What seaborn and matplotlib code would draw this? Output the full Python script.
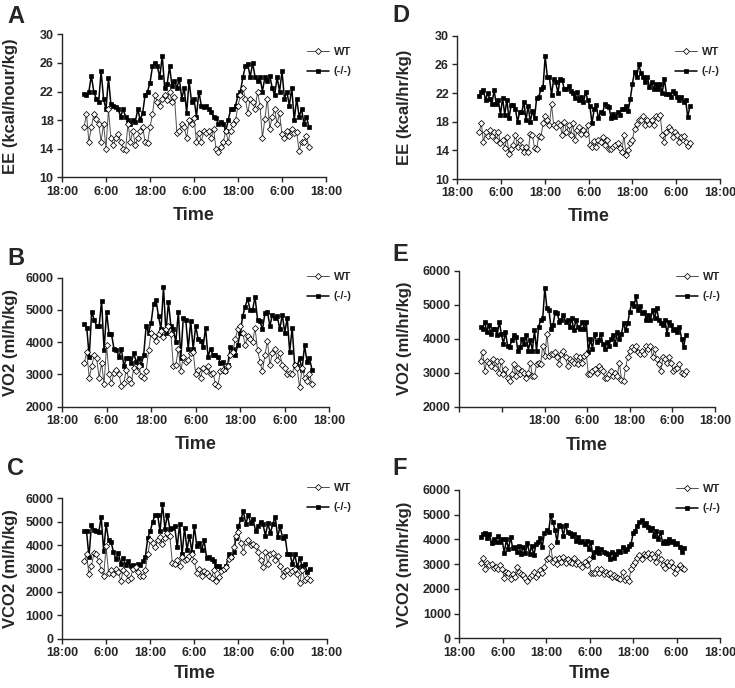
import numpy as np
import pandas as pd
import matplotlib
matplotlib.use("Agg")
import matplotlib.pyplot as plt
import seaborn as sns

sns.set_style("ticks")
plt.rcParams["font.family"] = ["Liberation Sans", "DejaVu Sans"]
plt.rcParams["font.weight"] = "bold"
plt.rcParams["axes.labelweight"] = "bold"

# sampling: first point at 00:00 (6 h after the 18:00 origin)
start_h = 6.0
step_abc = 40 / 60   # panels A-C
step_def = 35 / 60   # panels D-F

time_ticks = [0, 12, 24, 36, 48, 60, 72]
time_labels = ["18:00", "6:00", "18:00", "6:00", "18:00", "6:00", "18:00"]
time_labels_e = ["", "", "18:00", "6:00", "18:00", "6:00", "18:00"]

# A: EE (kcal/hour/kg)
ee_wt_a = [17.0, 18.8, 15.0, 17.0, 18.8, 18.2, 17.5, 15.0, 17.5, 14.0,
           19.5, 15.5, 14.5, 15.5, 16.0, 15.0, 14.0, 13.8, 17.5, 15.0,
           16.5, 14.5, 15.5, 16.5, 17.0, 15.0, 14.8, 17.0,
           18.8, 21.5, 20.5, 20.0, 21.0, 21.5, 20.8, 22.0, 20.5,
           21.3, 16.2, 16.5, 17.5, 17.0, 15.5, 18.0, 17.5, 18.3,
           15.0, 16.2, 15.0, 16.5, 16.2, 16.5, 15.5, 16.8, 14.0,
           13.5, 14.3, 15.0, 16.5, 15.0, 16.5, 17.5, 18.0, 20.0,
           21.5, 22.5, 21.0, 19.0, 21.0, 20.5, 19.5, 22.0, 20.0,
           15.5, 18.2, 21.0, 16.8, 18.5, 19.5, 17.5, 19.0, 16.0,
           15.5, 16.5, 15.8, 16.8, 16.2, 16.3, 13.7, 15.0, 15.0, 15.8, 14.2]
ee_ko_a = [21.7, 21.5, 22.0, 24.2, 22.0, 21.0, 20.5, 24.8, 21.0, 19.5,
           23.9, 20.2, 20.0, 19.8, 19.5, 18.5, 19.5, 18.5, 18.0, 17.5,
           18.0, 17.8, 19.5, 18.0, 19.0, 21.5, 22.0, 23.2, 25.5, 26.0,
           25.5, 24.0, 27.0, 22.5, 23.0, 25.5, 22.8, 23.5, 22.5, 23.8,
           21.0, 22.5, 19.0, 23.5, 20.5, 21.0, 18.5, 22.0, 20.0, 19.8,
           20.0, 19.5, 19.2, 18.5, 18.3, 17.5, 17.8, 17.5, 16.5, 18.0,
           19.5, 19.5, 20.0, 21.5, 22.0, 24.0, 25.5, 25.8, 24.0, 26.0,
           24.0, 23.5, 24.0, 22.0, 24.0, 23.5, 24.2, 22.5, 21.5, 24.0,
           22.0, 24.8, 21.0, 22.0, 20.0, 22.5, 18.0, 21.0, 18.5, 19.5,
           17.5, 18.5, 17.0]

# B: VO2 (ml/h/kg)
vo2_wt_b = [3350, 3700, 2900, 3250, 3600, 3500, 2900, 3350, 2700, 3900,
            3000, 2750, 3050, 3150, 3000, 2650, 2750, 3150, 2850, 2750,
            3200, 3100, 3250, 2950, 2900, 3100, 3750, 4300, 4200, 4050,
            4250, 4350, 4150, 4400, 4500, 4250, 3250, 3300, 3800, 3100,
            3550, 3400, 3450, 3650, 3700, 3000, 3150, 2900, 3200, 3100,
            3250, 3000, 3050, 2700, 2650, 3100, 3150, 3100, 3250, 3600,
            3700, 4100, 4400, 4500, 4300, 3900, 4200, 4100, 4000, 4450,
            3750, 3400, 3100, 3600, 4050, 3300, 3650, 3800, 3450, 3650,
            3300, 3200, 3000, 3050, 3000, 3300, 3200, 2600, 3200, 2900,
            2800, 3000, 2700]
vo2_ko_b = [4550, 4450, 3550, 4950, 4700, 4500, 4500, 5280, 3750, 4950,
            4250, 4250, 3800, 3750, 3550, 3800, 3250, 3500, 3500, 3350,
            3650, 3400, 3500, 3300, 3600, 4500, 4300, 4600, 5200, 5300,
            4800, 4400, 5700, 4300, 5250, 4500, 4400, 4000, 4950, 3500,
            4750, 4700, 3800, 4650, 3800, 4500, 4100, 4050, 3850, 4450,
            3550, 3800, 3600, 3600, 3550, 3350, 3400, 3100, 3300, 3850,
            3800, 3600, 3900, 4300, 4800, 5100, 5350, 5000, 5000, 5400,
            4700, 4650, 4400, 4900, 4950, 4500, 4850, 4750, 4800, 4400,
            4850, 4300, 4750, 3700, 4450, 3300, 3250, 3500, 3150, 3900,
            3400, 3500, 3150]

# C: VCO2 (ml/h/kg)
vco2_wt_c = [3300, 3600, 2750, 3100, 3650, 3600, 3300, 2950, 2700, 3950,
             2800, 2950, 2750, 3000, 2850, 2450, 2950, 2800, 2500, 2600,
             3000, 3050, 2850, 2700, 2700, 2950, 3600, 4200, 4100, 3900,
             4200, 4350, 4050, 4300, 4500, 4400, 3250, 3200, 3350, 3100,
             3500, 3350, 3400, 3550, 3600, 3300, 2800, 3000, 2700, 2900,
             2800, 2700, 2600, 2950, 2450, 2650, 2900, 3000, 3050, 3400,
             3500, 3900, 4400, 4550, 4100, 3700, 4150, 4200, 4000, 4050,
             3950, 3700, 3350, 3050, 3700, 3200, 3600, 3650, 3350, 3550,
             3100, 2700, 2900, 2950, 2800, 2900, 3000, 2750, 2400, 2950,
             2500, 2600, 2500]
vco2_ko_c = [4600, 4600, 3500, 4850, 4650, 4600, 4550, 5200, 3750, 4900,
             4200, 4150, 3700, 3400, 3650, 3200, 3450, 3150, 3300, 3100,
             3150, 3100, 3200, 3150, 3300, 3500, 4300, 4600, 5000, 5300,
             5300, 4600, 5750, 4700, 5300, 4700, 4750, 4800, 3900, 4900,
             3600, 4750, 3800, 4400, 3700, 4800, 3950, 4100, 3800, 4200,
             3450, 3500, 3400, 3300, 3100, 3100, 2950, 3000, 3100, 3600,
             3500, 3700, 4300, 4800, 5100, 5450, 4900, 5300, 4950, 5100,
             4600, 4800, 5000, 4900, 4400, 4950, 4500, 4900, 5200, 4350,
             4800, 4300, 4400, 3600, 3600, 3200, 3600, 3050, 3450, 3100,
             3200, 2850, 3000]

# D: EE (kcal/hr/kg)
ee_wt_d = [16.5, 17.8, 15.2, 16.5, 16.0, 16.8, 16.0, 16.5, 15.5, 16.5,
           15.0, 15.5, 14.3, 15.8, 13.5, 14.2, 14.8, 16.2, 14.5, 15.5,
           14.5, 13.8, 14.5, 13.8, 16.3, 16.2, 14.3, 14.2, 16.0, 15.8,
           17.8, 18.8, 18.2, 17.6, 20.4, 17.5, 17.2, 17.8, 17.5, 16.2,
           18.0, 16.5, 17.5, 16.2, 17.8, 15.5, 16.8, 17.3, 16.3, 16.8,
           16.3, 17.5, 14.8, 14.5, 15.3, 14.5, 15.5, 15.2, 15.8, 14.8,
           15.5, 14.2, 14.2, 14.5, 14.8, 15.0, 14.3, 13.8, 16.2, 13.3,
           14.0, 15.0, 15.5, 17.0, 17.7, 18.2, 18.3, 18.8, 17.5, 18.2,
           17.7, 18.2, 17.5, 18.8, 18.5, 19.0, 16.2, 15.2, 16.5, 17.3,
           16.8, 15.8, 16.6, 16.2, 15.2, 15.8, 16.0, 15.2, 14.6, 15.0]
ee_ko_d = [21.6, 22.1, 22.4, 21.0, 22.0, 21.2, 20.5, 22.4, 20.5, 21.0,
           19.0, 21.3, 19.0, 21.0, 18.5, 20.3, 20.3, 19.8, 18.0, 19.3,
           19.3, 20.8, 18.2, 20.2, 18.0, 19.5, 18.5, 21.3, 21.5, 22.5,
           22.8, 27.1, 24.3, 24.2, 21.7, 24.0, 23.5, 22.0, 24.0, 23.8,
           22.5, 22.5, 23.0, 22.3, 22.0, 21.3, 22.2, 21.0, 21.5, 20.7,
           22.2, 21.0, 20.2, 17.8, 19.7, 20.3, 18.5, 19.3, 19.2, 20.5,
           20.2, 20.0, 18.5, 19.1, 18.6, 19.3, 19.0, 19.8, 19.7, 20.2,
           19.5, 21.2, 23.3, 25.0, 24.2, 26.0, 24.8, 24.3, 23.5, 24.3,
           22.8, 23.5, 22.6, 23.2, 22.5, 23.2, 22.0, 24.0, 21.8, 21.8,
           21.5, 22.3, 22.0, 21.5, 21.0, 21.5, 20.7, 21.0, 18.6, 20.2]

# E: VO2 (ml/hr/kg)
vo2_wt_e = [3350, 3600, 3050, 3350, 3300, 3200, 3400, 3150, 3350, 3000,
            3350, 2950, 3100, 2850, 2750, 2950, 3250, 2900, 3150, 2950,
            3050, 3000, 2850, 3000, 3300, 2900, 2900, 3250, 3300, 3250,
            3800, 3500, 4150, 3500, 3550, 3550, 3600, 3450, 3250, 3550,
            3650, 3450, 3200, 3400, 3350, 3300, 3500, 3250, 3450, 3300,
            3500, 3550, 2950, 2950, 3050, 3100, 3000, 3200, 3100, 3050,
            2850, 2850, 2950, 3050, 2900, 3000, 2900, 3300, 2800, 2750,
            3150, 3450, 3650, 3750, 3700, 3800, 3600, 3550, 3650, 3550,
            3800, 3700, 3800, 3450, 3700, 3400, 3250, 3050, 3450, 3400,
            3300, 3450, 3300, 3050, 3100, 3150, 3250, 3000, 2950, 3050]
vo2_ko_e = [4350, 4300, 4500, 4200, 4400, 4150, 4300, 4300, 4100, 4500,
            4150, 3850, 4200, 3800, 3750, 3950, 4100, 4050, 3650, 3750,
            4000, 3850, 4100, 3650, 3950, 3650, 4250, 3650, 4350, 4550,
            4600, 5500, 4900, 4850, 4300, 4400, 4800, 4750, 4500, 4550,
            4700, 4500, 4550, 4350, 4600, 4250, 4550, 4350, 4300, 4500,
            4300, 4500, 3600, 4000, 3700, 4150, 3900, 3950, 4150, 3850,
            3700, 3900, 3800, 4000, 4100, 3850, 4200, 4000, 4150, 4450,
            4250, 4450, 4800, 5050, 4950, 5250, 4850, 4950, 4750, 4800,
            4550, 4700, 4550, 4850, 4600, 4900, 4550, 4450, 4400, 4550,
            4150, 4500, 4400, 4250, 4300, 4200, 4350, 4000, 3750, 4100]

# F: VCO2 (ml/hr/kg)
vco2_wt_f = [3050, 3250, 2800, 3050, 2950, 3000, 2850, 2900, 2800, 2950,
             2800, 2450, 2700, 2650, 2400, 2600, 2500, 2900, 2700, 2600,
             2550, 2450, 2300, 2500, 2550, 2700, 2500, 2600, 2750, 2650,
             2900, 3200, 3250, 3750, 3100, 3200, 3000, 3250, 3100, 3300,
             3050, 3200, 3100, 3050, 3250, 3000, 3100, 2950, 2900, 3100,
             2950, 3200, 2650, 2650, 2650, 2800, 2650, 2800, 2600, 2700,
             2600, 2650, 2500, 2550, 2500, 2450, 2400, 2700, 2350, 2450,
             2300, 2800, 2950, 3100, 3250, 3350, 3200, 3400, 3350, 3450,
             3250, 3400, 3300, 3100, 3500, 3200, 2950, 2850, 3100, 2950,
             3100, 2900, 2650, 2800, 2950, 2850, 2800]
vco2_ko_f = [4100, 4200, 4250, 4050, 4200, 3850, 4000, 3900, 4150, 3900,
             4000, 3450, 4000, 3600, 4100, 3650, 3700, 3500, 3750, 3400,
             3700, 3450, 3850, 3400, 3750, 3350, 3800, 3900, 4050, 3700,
             4250, 4400, 4300, 5000, 4700, 4400, 3900, 4600, 4550, 4150,
             4600, 4300, 4250, 4150, 4200, 3950, 4100, 3900, 3950, 3800,
             3950, 3600, 3900, 3300, 3500, 3650, 3450, 3600, 3500, 3450,
             3400, 3200, 3500, 3250, 3400, 3550, 3500, 3700, 3550, 3600,
             3750, 3800, 4250, 4350, 4550, 4700, 4800, 4600, 4650, 4500,
             4400, 4450, 4150, 4350, 4000, 4300, 3850, 3950, 3850, 4000,
             3900, 3950, 3800, 3850, 3700, 3500, 3650]

W, H = 735, 688
fig = plt.figure(figsize=(W / 100, H / 100), dpi=100)


def px_rect(l, t, r, b):
    return [l / W, 1 - b / H, (r - l) / W, (b - t) / H]


def panel(letter, rect, letter_xy, wt, ko, step, ylim, yticks, ylabel,
          xlabels, ylab_right, xlab_y, leg_xy):
    ax = fig.add_axes(px_rect(*rect))
    df = pd.concat([
        pd.DataFrame({"hour": start_h + step * np.arange(len(wt)), "value": wt, "genotype": "WT"}),
        pd.DataFrame({"hour": start_h + step * np.arange(len(ko)), "value": ko, "genotype": "(-/-)"}),
    ])
    sns.lineplot(data=df[df.genotype == "WT"], x="hour", y="value", ax=ax,
                 color="#505050", lw=0.7, marker="D", markersize=3.1,
                 markerfacecolor="white", markeredgecolor="black",
                 markeredgewidth=0.55, label="WT", zorder=3)
    sns.lineplot(data=df[df.genotype == "(-/-)"], x="hour", y="value", ax=ax,
                 color="black", lw=1.1, marker="s", markersize=2.8,
                 markerfacecolor="black", markeredgecolor="black",
                 markeredgewidth=0.5, label="(-/-)", zorder=2)
    ax.set_xlim(0, 72)
    ax.set_ylim(*ylim)
    ax.set_xticks(time_ticks)
    ax.set_xticklabels(xlabels)
    ax.set_yticks(yticks)
    ax.tick_params(direction="out", length=3.5, width=1, labelsize=9, pad=2.5)
    for s in ("left", "bottom"):
        ax.spines[s].set_linewidth(1.0)
    sns.despine(ax=ax)
    ax.set_xlabel("Time", fontsize=13, fontweight="bold", va="top")
    ax.set_ylabel(ylabel, fontsize=12, fontweight="bold")
    ax.xaxis.set_label_coords(0.5, xlab_y)
    # right edge of the rotated y label, given in figure pixels
    ax.yaxis.set_label_coords((ylab_right - rect[0]) / (rect[2] - rect[0]), 0.5)
    ax.legend(loc="upper left", bbox_to_anchor=(leg_xy[0] / W, 1 - leg_xy[1] / H),
              bbox_transform=fig.transFigure, frameon=False,
              prop={"size": 8, "weight": "bold"}, handlelength=2.0,
              handletextpad=0.4, labelspacing=0.85, borderpad=0, borderaxespad=0)
    fig.text(letter_xy[0] / W, 1 - letter_xy[1] / H, letter, fontsize=17,
             fontweight="bold", ha="left", va="top")
    return ax


ee_ticks = [10, 14, 18, 22, 26, 30]
vo2_ticks = [2000, 3000, 4000, 5000, 6000]
vco2_ticks = [0, 1000, 2000, 3000, 4000, 5000, 6000]

panel("A", (62, 34.3, 326, 177.3), (7, 5), ee_wt_a, ee_ko_a, step_abc,
      (10, 30), ee_ticks, "EE (kcal/hour/kg)", time_labels, 18, -0.21, (307, 47))
panel("B", (62, 277.7, 329.3, 406.7), (7, 247), vo2_wt_b, vo2_ko_b, step_abc,
      (2000, 6000), vo2_ticks, "VO2 (ml/h/kg)", time_labels, 18, -0.23, (307, 272))
panel("C", (62, 498.3, 326.7, 638.7), (7, 457), vco2_wt_c, vco2_ko_c, step_abc,
      (0, 6000), vco2_ticks, "VCO2 (ml/h/kg)", time_labels, 18, -0.185, (307, 483))
panel("D", (457.3, 35.7, 720, 179), (392, 4), ee_wt_d, ee_ko_d, step_def,
      (10, 30), ee_ticks, "EE (kcal/hr/kg)", time_labels, 412, -0.2, (675, 47))
panel("E", (459.3, 270.7, 715, 406.7), (392, 243), vo2_wt_e, vo2_ko_e, step_def,
      (2000, 6000), vo2_ticks, "VO2 (ml/hr/kg)", time_labels_e, 412, -0.22, (676, 272))
panel("F", (459.3, 490, 720, 638.3), (392, 457), vco2_wt_f, vco2_ko_f, step_def,
      (0, 6000), vco2_ticks, "VCO2 (ml/hr/kg)", time_labels, 412, -0.182, (676, 484))

fig.savefig("out.png", dpi=100)
